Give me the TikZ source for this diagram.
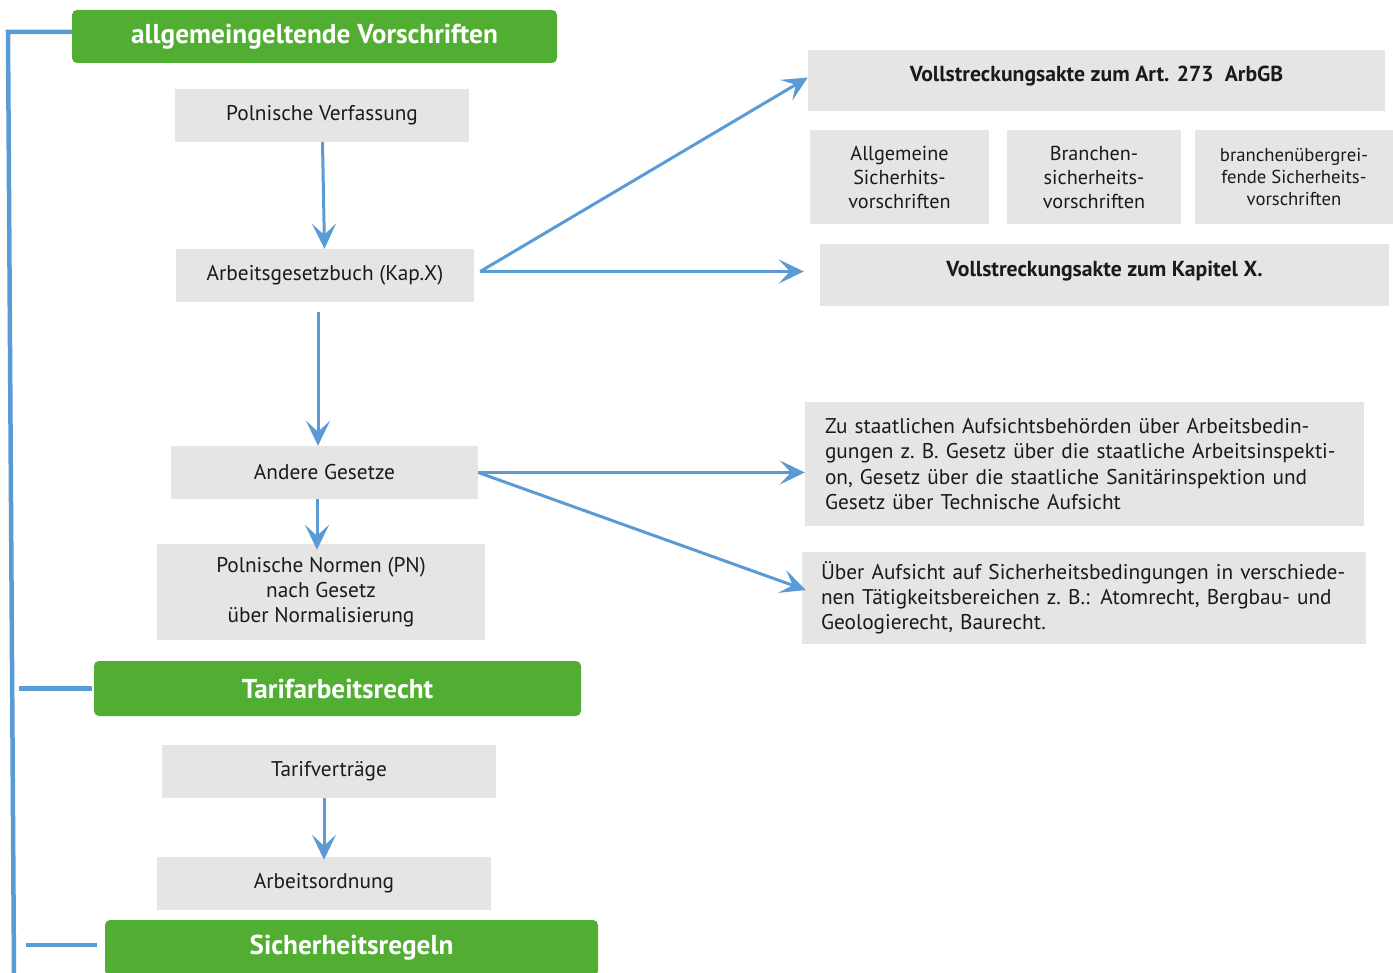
\documentclass[tikz,border=0pt]{standalone}
\usepackage{fontspec}
\setmainfont{PT Sans}
\usepackage{xcolor}
\usetikzlibrary{arrows.meta, positioning}
\definecolor{hdgreen}{HTML}{52AE32}
\definecolor{boxgrey}{HTML}{E5E5E5}
\definecolor{linkblue}{HTML}{5B9BD5}
\definecolor{inktext}{HTML}{1A1A1A}

\begin{document}
\begin{tikzpicture}[
    x=1pt, y=-1pt,
    every node/.style={align=center, inner sep=0pt, text=inktext, font=\fontsize{21.3}{25.3}\selectfont},
    head/.style={fill=hdgreen, rounded corners=5pt, text=white, font=\fontsize{27.3}{30}\selectfont\bfseries},
    law/.style={fill=boxgrey},
    act/.style={fill=boxgrey, text height=16pt, text depth=13pt, font=\fontsize{21.7}{25}\selectfont\bfseries},
    note/.style={fill=boxgrey, align=left, inner xsep=20pt},
    arrow/.style={-{Stealth[length=25pt, width=24pt, inset=11pt]}, line width=3pt, linkblue},
    spine/.style={line width=4.5pt, linkblue}
]
\useasboundingbox (0,0) rectangle (1393,973);

% Nodes
\node[head, minimum width=485pt, minimum height=53pt] (allg) at (314.5,36.5) {allgemeingeltende Vorschriften};
\node[law, minimum width=294pt, minimum height=53pt] (verf) at (322,115.5) {Polnische Verfassung};
\node[law, minimum width=298pt, minimum height=53pt] (agb) at (325,275.5) {Arbeitsgesetzbuch (Kap.X)};
\node[law, minimum width=307pt, minimum height=53pt] (andere) at (324.5,472.5) {Andere Gesetze};
\node[law, minimum width=328pt, minimum height=96pt] (pn) at (321,592) {Polnische Normen (PN)\\nach Gesetz\\über Normalisierung};
\node[head, minimum width=487pt, minimum height=55pt] (tarif) at (337.5,688.5) {Tarifarbeitsrecht};
\node[law, minimum width=334pt, minimum height=53pt] (tv) at (329,771.5) {Tarifverträge};
\node[law, minimum width=334pt, minimum height=53pt] (ao) at (324,883.5) {Arbeitsordnung};
\node[head, minimum width=493pt, minimum height=56pt] (sich) at (351.5,948) {Sicherheitsregeln};

\node[act, minimum width=577pt, minimum height=61pt] (art) at (1096.5,80.5) {Vollstreckungsakte zum Art. 273\ \ ArbGB};
\node[law, minimum width=179pt, minimum height=94pt, font=\fontsize{20.2}{24}\selectfont] (allgsi) at (899.5,177) {Allgemeine\\Sicherhits-\\vorschriften};
\node[law, minimum width=174pt, minimum height=94pt, font=\fontsize{20.2}{24}\selectfont] (bransi) at (1094,177) {Branchen-\\sicherheits-\\vorschriften};
\node[law, minimum width=198pt, minimum height=94pt, font=\fontsize{18.7}{22}\selectfont] (uebsi) at (1294,177) {branchenübergrei-\\fende Sicherheits-\\vorschriften};
\node[act, minimum width=569pt, minimum height=62pt] (kap) at (1104.5,275) {Vollstreckungsakte zum Kapitel X.};
\node[note, text width=519pt, minimum height=124pt] (aufsicht) at (1084.5,464) {Zu staatlichen Aufsichtsbehörden über Arbeitsbedin-\\gungen z.~B. Gesetz über die staatliche Arbeitsinspekti-\\on, Gesetz über die staatliche Sanitärinspektion und\\Gesetz über Technische Aufsicht};
\node[note, inner xsep=19pt, text width=526pt, minimum height=92pt] (bereich) at (1084,598) {Über Aufsicht auf Sicherheitsbedingungen in verschiede-\\nen Tätigkeitsbereichen z.~B.: Atomrecht, Bergbau- und\\Geologierecht, Baurecht.};

% Spine
\coordinate (spinetop) at (8,32);
\coordinate (spinebot) at (14,973);
\draw[spine] ([yshift=4.5pt]allg.west) -- (spinetop) -- (spinebot);
\draw[spine] ([xshift=-2pt]tarif.west) -- ++(-73,0);
\draw[spine] ([xshift=-8pt,yshift=3pt]sich.west) -- ++(-71,0);

% Arrows
\draw[arrow] (verf) -- (agb);
\draw[arrow, shorten <=10pt] ([xshift=-7pt]agb.south) -- ([xshift=-6.5pt]andere.north);
\draw[arrow] ([xshift=-7.5pt]andere.south) -- ([xshift=-4pt,yshift=-6pt]pn.north);
\draw[arrow] ([xshift=-5pt]tv.south) -- ([yshift=-3pt]ao.north);

\coordinate (agbout) at ([xshift=6pt,yshift=4pt]agb.east);
\draw[arrow] (agbout) -- ([yshift=3pt]art.west);
\draw[arrow, shorten >=16pt] (agbout) -- (agbout -| kap.west);
\draw[arrow] (andere.east) -- (andere.east -| aufsicht.west);
\draw[arrow] (andere.east) -- ([xshift=4pt,yshift=8pt]bereich.west);

\end{tikzpicture}
\end{document}
